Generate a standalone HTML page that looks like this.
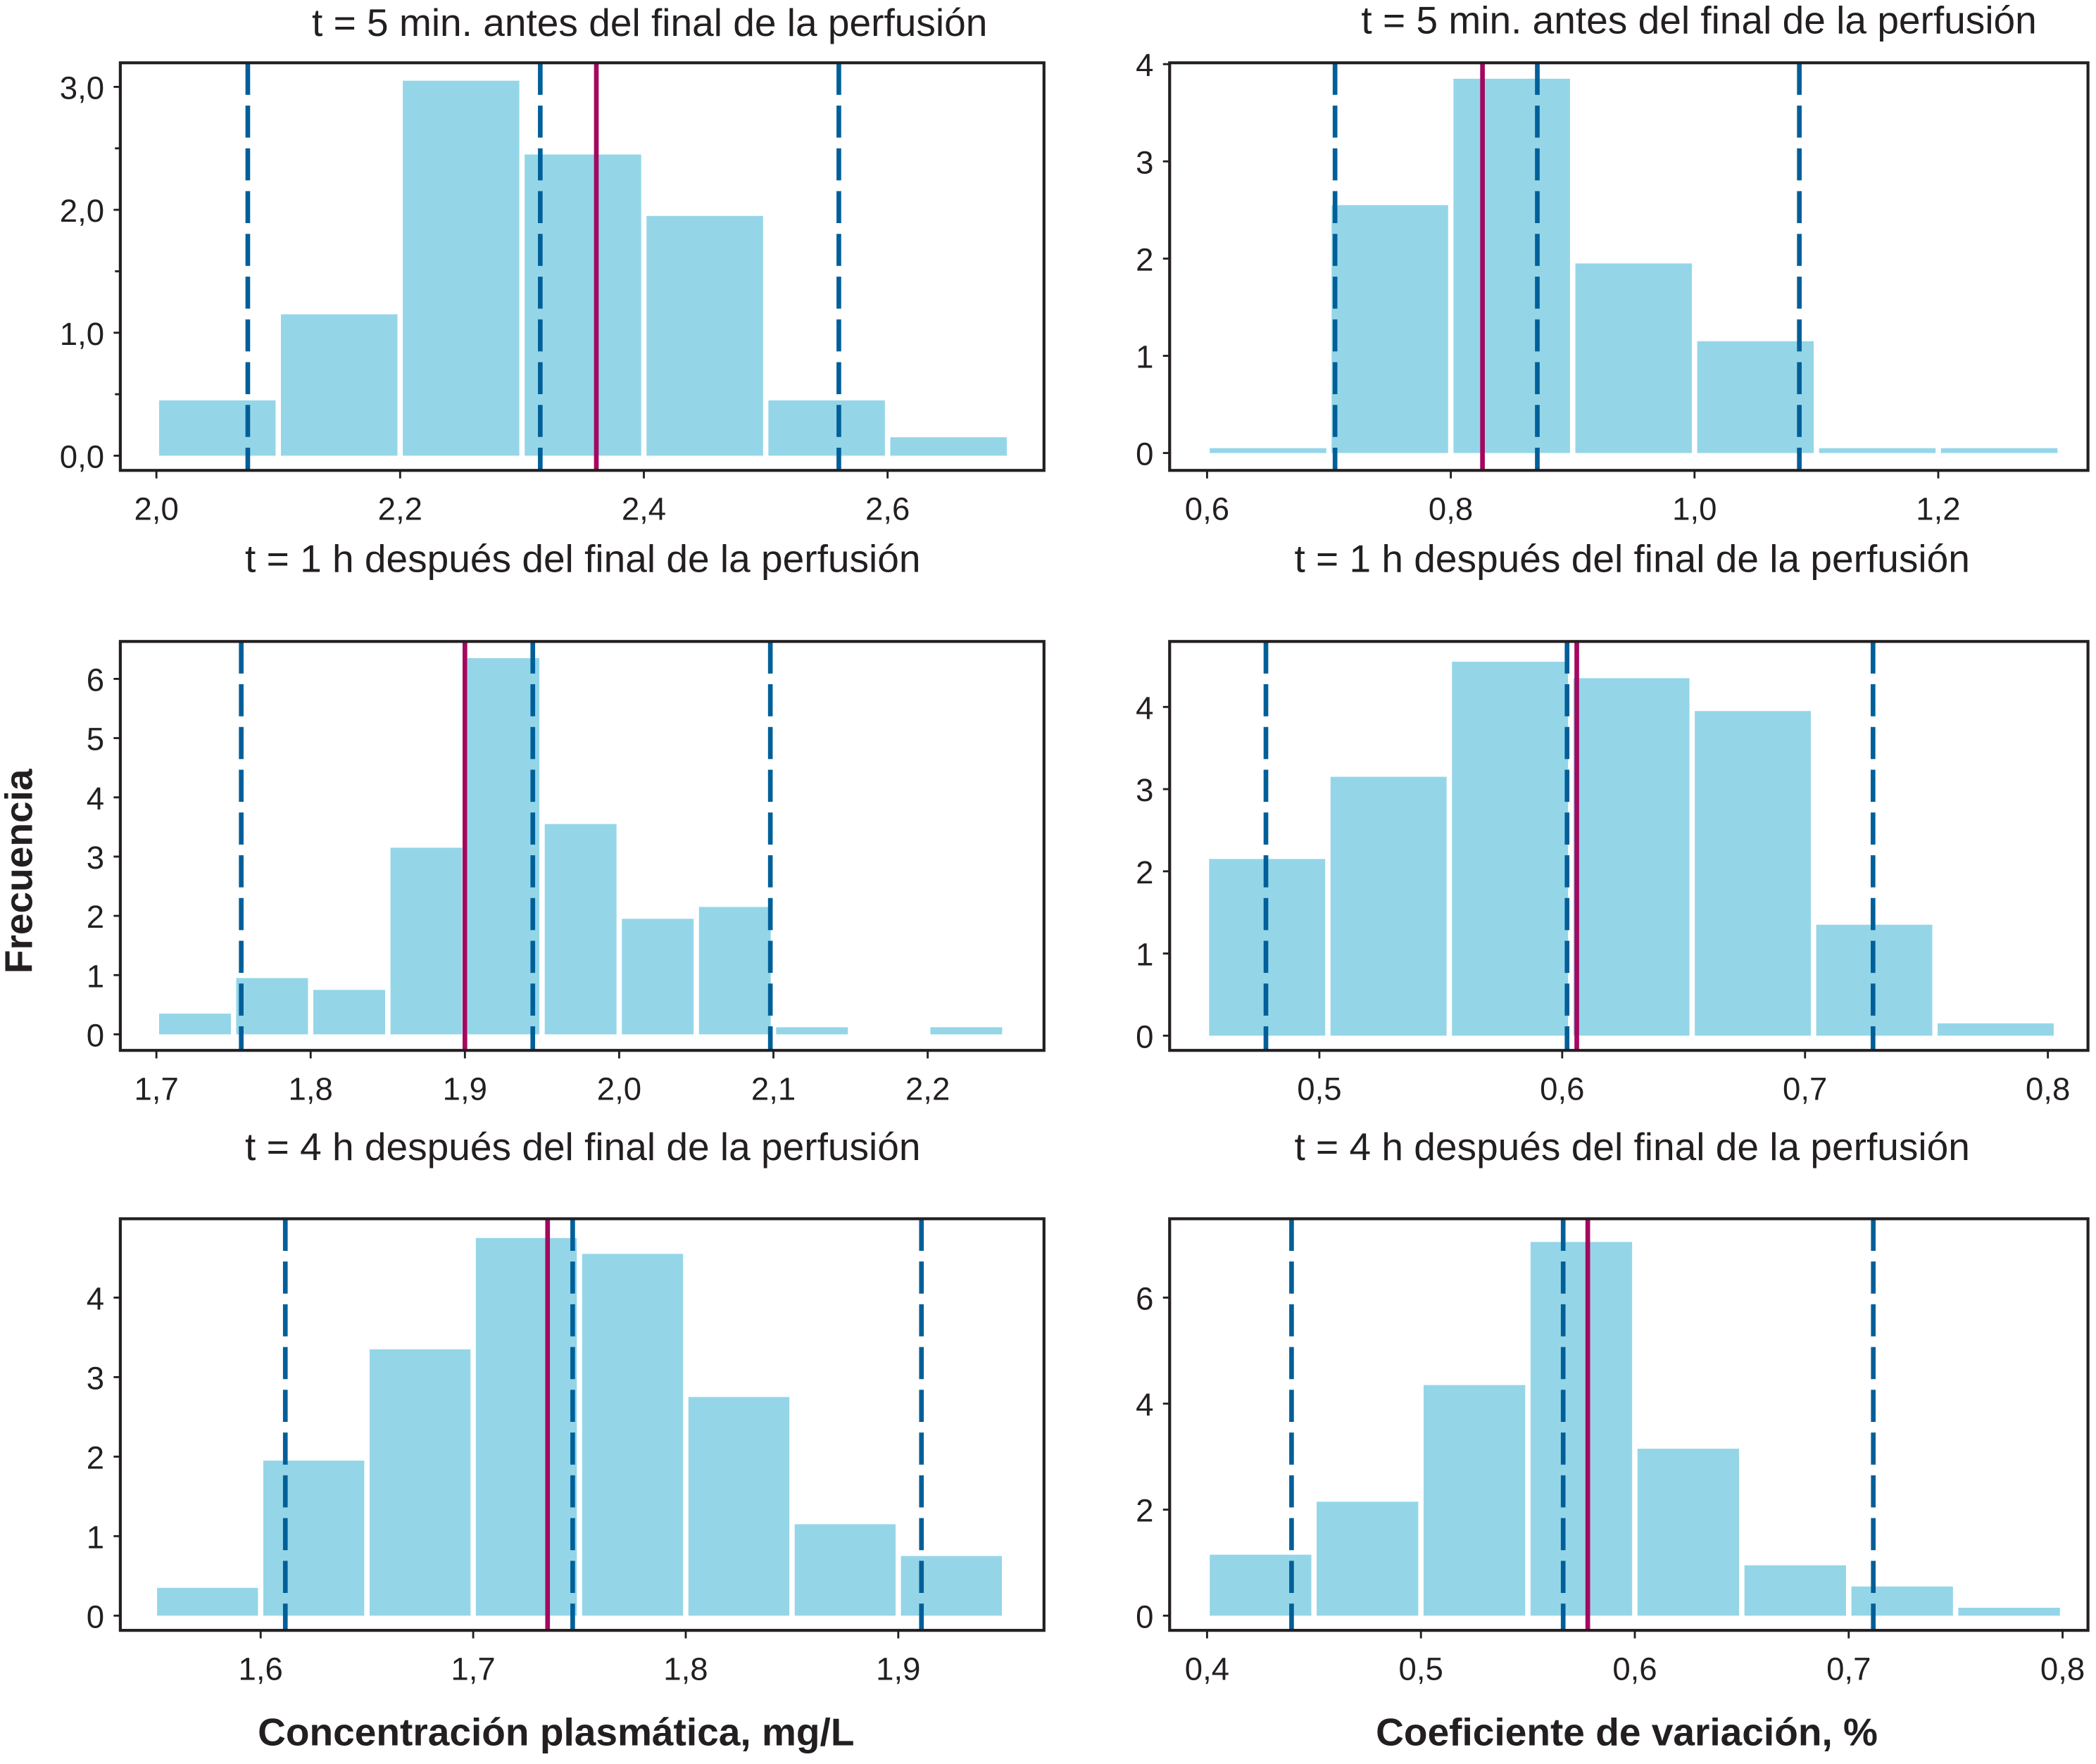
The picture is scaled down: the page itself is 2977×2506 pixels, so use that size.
<!DOCTYPE html>
<html><head><meta charset="utf-8"><style>
html,body{margin:0;padding:0;background:#fff}
svg{display:block}
text{font-family:"Liberation Sans",sans-serif;fill:#231f20}
</style></head><body>
<svg id="chart" width="2977" height="2506" viewBox="0 0 1568 1320" preserveAspectRatio="none" xmlns="http://www.w3.org/2000/svg">
<text x="486" y="27" font-size="29" text-anchor="middle">t = 5 min. antes del final de la perfusión</text>
<text x="1271" y="25" font-size="29" text-anchor="middle">t = 5 min. antes del final de la perfusión</text>
<text x="436" y="428" font-size="29" text-anchor="middle">t = 1 h después del final de la perfusión</text>
<text x="1221" y="428" font-size="29" text-anchor="middle">t = 1 h después del final de la perfusión</text>
<text x="436" y="868" font-size="29" text-anchor="middle">t = 4 h después del final de la perfusión</text>
<text x="1221" y="868" font-size="29" text-anchor="middle">t = 4 h después del final de la perfusión</text>
<text x="416" y="1306" font-size="29" font-weight="bold" text-anchor="middle">Concentración plasmática, mg/L</text>
<text x="1217" y="1306" font-size="29" font-weight="bold" text-anchor="middle">Coeficiente de variación, %</text>
<text transform="translate(24,652) rotate(-90)" font-size="29" font-weight="bold" text-anchor="middle">Frecuencia</text>
<g id="panels"></g>
</svg>
<script>
// Panel 1 (top-left)
const p1BinStart = [2.0,2.1,2.2,2.3,2.4,2.5,2.6];
const p1Counts = [0.45,1.15,3.05,2.45,1.95,0.45,0.15];
const p1Dashed = [2.075,2.315,2.560];
const p1Mean = [2.361];
const p1XTicks = [2.0,2.2,2.4,2.6];
const p1YTicks = [0,1,2,3];
// Panel 2 (top-right)
const p2BinStart = [0.6,0.7,0.8,0.9,1.0,1.1,1.2];
const p2Counts = [0.05,2.55,3.85,1.95,1.15,0.05,0.05];
const p2Dashed = [0.705,0.871,1.086];
const p2Mean = [0.826];
const p2XTicks = [0.6,0.8,1.0,1.2];
const p2YTicks = [0,1,2,3,4];
// Panel 3 (mid-left)
const p3BinStart = [1.70,1.75,1.80,1.85,1.90,1.95,2.00,2.05,2.10,2.15,2.20];
const p3Counts = [0.35,0.95,0.75,3.15,6.35,3.55,1.95,2.15,0.12,0,0.12];
const p3Dashed = [1.755,1.944,2.098];
const p3Mean = [1.900];
const p3XTicks = [1.7,1.8,1.9,2.0,2.1,2.2];
const p3YTicks = [0,1,2,3,4,5,6];
// Panel 4 (mid-right)
const p4BinStart = [0.4535,0.5035,0.5535,0.6035,0.6535,0.7035,0.7535];
const p4Counts = [2.15,3.15,4.55,4.35,3.95,1.35,0.15];
const p4Dashed = [0.478,0.602,0.728];
const p4Mean = [0.606];
const p4XTicks = [0.5,0.6,0.7,0.8];
const p4YTicks = [0,1,2,3,4];
// Panel 5 (bottom-left)
const p5BinStart = [1.55,1.60,1.65,1.70,1.75,1.80,1.85,1.90];
const p5Counts = [0.35,1.95,3.35,4.75,4.55,2.75,1.15,0.75];
const p5Dashed = [1.6116,1.7468,1.9109];
const p5Mean = [1.735];
const p5XTicks = [1.6,1.7,1.8,1.9];
const p5YTicks = [0,1,2,3,4];
// Panel 6 (bottom-right)
const p6BinStart = [0.40,0.45,0.50,0.55,0.60,0.65,0.70,0.75];
const p6Counts = [1.15,2.15,4.35,7.05,3.15,0.95,0.55,0.15];
const p6Dashed = [0.4395,0.5665,0.7115];
const p6Mean = [0.578];
const p6XTicks = [0.4,0.5,0.6,0.7,0.8];
const p6YTicks = [0,2,4,6];

const NS="http://www.w3.org/2000/svg";
const root=document.getElementById('panels');
function mk(tag,attrs,parent){const e=document.createElementNS(NS,tag);for(const k in attrs)e.setAttribute(k,attrs[k]);parent.appendChild(e);return e;}
function fmt(v,d){return v.toFixed(d).replace('.',',');}

function panel(id,box,x0,xpx0,x1,xpx1,ypx0,ypx1,yv1,bins,w,counts,dashed,mean,xt,yt,ydec,minor){
  const sx=v=>xpx0+(v-x0)*(xpx1-xpx0)/(x1-x0);
  const sy=v=>ypx0+v*(ypx1-ypx0)/yv1;
  const g=mk('g',{},root);
  
  
  bins.forEach((b,i)=>{
    if(counts[i]<=0)return;
    const r=mk('rect',{x:sx(b)+2,y:sy(counts[i]),width:sx(b+w)-sx(b)-4,height:sy(0)-sy(counts[i]),fill:'#94d6e8'},g);
    
    
  });
  dashed.forEach((v,i)=>{
    const l=mk('line',{x1:sx(v),x2:sx(v),y1:box[1],y2:box[3],stroke:'#005f99','stroke-width':3.5,'stroke-dasharray':'24,8'},g);
    
    
  });
  mean.forEach(v=>{
    const l=mk('line',{x1:sx(v),x2:sx(v),y1:box[1],y2:box[3],stroke:'#a4085e','stroke-width':3.5},g);
    
    
  });
  const f=mk('rect',{x:box[0],y:box[1],width:box[2]-box[0],height:box[3]-box[1],fill:'none',stroke:'#231f20','stroke-width':2.2},g);
  
  
  xt.forEach(v=>{
    mk('line',{x1:sx(v),x2:sx(v),y1:box[3],y2:box[3]+6,stroke:'#231f20','stroke-width':1.5},g);
    const t=mk('text',{x:sx(v),y:box[3]+37,'font-size':24,'text-anchor':'middle'},g);
    t.textContent=fmt(v,1);
    
    
  });
  yt.forEach(v=>{
    mk('line',{x1:box[0]-5,x2:box[0],y1:sy(v),y2:sy(v),stroke:'#231f20','stroke-width':1.5},g);
    const t=mk('text',{x:box[0]-12,y:sy(v)+9,'font-size':24,'text-anchor':'end'},g);
    t.textContent=fmt(v,ydec);
    
    
  });
  if(minor){for(let v=0.5;v<yv1;v+=1){mk('line',{x1:box[0]-4,x2:box[0],y1:sy(v),y2:sy(v),stroke:'#231f20','stroke-width':1.5},g);}}
}
panel('panel-top-left',[90,47,781,352],2.0,117,2.6,664,341,65,3,p1BinStart,0.1,p1Counts,p1Dashed,p1Mean,p1XTicks,p1YTicks,1,true);
panel('panel-top-right',[875,47,1562,352],0.6,903,1.2,1450,339,48,4,p2BinStart,0.1,p2Counts,p2Dashed,p2Mean,p2XTicks,p2YTicks,0,false);
panel('panel-mid-left',[90,480,781,786],1.7,117,2.2,694,774,508,6,p3BinStart,0.05,p3Counts,p3Dashed,p3Mean,p3XTicks,p3YTicks,0,false);
panel('panel-mid-right',[875,480,1562,786],0.5,987,0.8,1532,775,529,4,p4BinStart,0.05,p4Counts,p4Dashed,p4Mean,p4XTicks,p4YTicks,0,false);
panel('panel-bottom-left',[90,912,781,1220],1.6,195,1.9,672,1209,971,4,p5BinStart,0.05,p5Counts,p5Dashed,p5Mean,p5XTicks,p5YTicks,0,false);
panel('panel-bottom-right',[875,912,1562,1220],0.4,903,0.8,1543,1209,971,6,p6BinStart,0.05,p6Counts,p6Dashed,p6Mean,p6XTicks,p6YTicks,0,false);
</script>
</body></html>
